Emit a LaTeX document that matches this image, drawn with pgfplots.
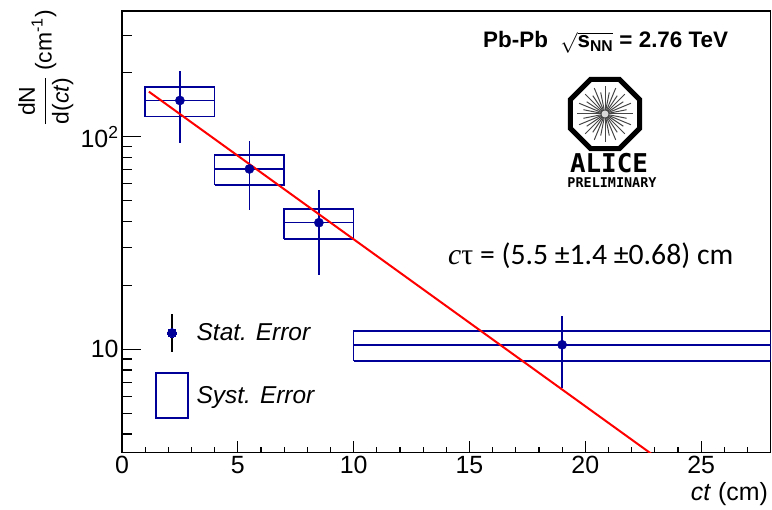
\documentclass[border=0pt]{standalone}
\usepackage{fontspec}
\setmainfont{Liberation Sans}
\newfontfamily\calib{Carlito}
\newfontfamily\tnr{Liberation Serif}
\newfontfamily\logofont{DejaVu Sans Mono}
\usepackage{amsmath}
\usepackage{pgfplots}
\pgfplotsset{compat=1.18}
\definecolor{datablue}{RGB}{0,0,153}
\definecolor{fitred}{RGB}{255,0,0}

\begin{document}
\begin{tikzpicture}
\useasboundingbox (0,0) rectangle (772bp,510bp);

% x axis ticks (shorter tick marks than on the y axis)
\begin{axis}[
  at={(122bp,57.3bp)}, anchor=south west,
  scale only axis, width=648.6bp, height=441.7bp,
  xmin=0, xmax=28, ymode=log, ymin=3.264, ymax=390,
  axis line style={line width=1.6bp},
  tick pos=left, tick align=inside,
  tick style={line width=1.2bp, black},
  ticklabel style={font=\fontsize{25}{30}\selectfont},
  /pgf/number format/assume math mode=true,
  xtick={0,5,...,25},
  minor xtick={1,2,3,4,6,7,8,9,11,12,13,14,16,17,18,19,21,22,23,24,26,27},
  ytick=\empty, minor ytick={},
  major tick length=12bp, minor tick length=6bp,
]
\end{axis}

\begin{axis}[
  at={(122bp,57.3bp)}, anchor=south west,
  scale only axis, width=648.6bp, height=441.7bp,
  xmin=0, xmax=28, ymode=log, ymin=3.264, ymax=390,
  axis line style={line width=1.6bp},
  tick pos=left, tick align=inside,
  tick style={line width=1.2bp, black},
  ticklabel style={font=\fontsize{25}{30}\selectfont},
  xtick=\empty, minor xtick={},
  ytick={10,100}, yticklabels={10,10\textsuperscript{2}},
  minor ytick={4,5,6,7,8,9,20,30,40,50,60,70,80,90,200,300},
  major tick length=19bp, minor tick length=10bp,
  legend style={draw=none, fill=none, at={(0.0509,0.3163)}, anchor=north west,
    inner sep=0pt, row sep=20bp, font=\fontsize{24.5}{29}\selectfont\itshape,
    nodes={inner sep=0pt},
    /tikz/every odd column/.append style={column sep=8bp}},
  legend cell align=left,
]
\addlegendimage{legend image code/.code={
  \draw[black, line width=1.3bp] (16bp,-19bp) -- (16bp,19bp);
  \draw[datablue, fill=datablue, line width=0bp] (16bp,0bp) circle[radius=4.6bp];
}}
\addlegendentry{Stat. Error}
\addlegendimage{legend image code/.code={
  \draw[datablue, line width=1.5bp] (0bp,-22.5bp) rectangle (32bp,22.5bp);
}}
\addlegendentry{Syst. Error}

% systematic uncertainty boxes
\addplot[datablue, line width=1.5bp, mark=none, forget plot]
  coordinates {(1,124.3) (4,124.3) (4,171.7) (1,171.7) (1,124.3)};
\addplot[datablue, line width=1.5bp, mark=none, forget plot]
  coordinates {(4,59.2) (7,59.2) (7,81.8) (4,81.8) (4,59.2)};
\addplot[datablue, line width=1.5bp, mark=none, forget plot]
  coordinates {(7,33.1) (10,33.1) (10,45.7) (7,45.7) (7,33.1)};
\addplot[datablue, line width=1.5bp, mark=none, forget plot]
  coordinates {(10,8.82) (28,8.82) (28,12.18) (10,12.18) (10,8.82)};

% yields with statistical uncertainties
\addplot[datablue, only marks, mark=*, mark size=4.6bp, forget plot,
  error bars/.cd, x dir=both, x explicit, y dir=both, y explicit,
  error mark=none, error bar style={line width=1.5bp, datablue}]
  coordinates {
    (2.5,148)  +- (1.5,55)
    (5.5,70.5) +- (1.5,25.3)
    (8.5,39.4) +- (1.5,17)
    (19,10.5)  +- (9,3.9)
  };

% exponential fit, c tau = 5.5 cm
\addplot[fitred, line width=2bp, mark=none, forget plot]
  coordinates {(1.16,162.8) (24,2.62)};
\end{axis}

% axis titles
\node[rotate=90, anchor=north east, inner sep=0, font=\fontsize{23}{28}\selectfont]
  at (18bp,500bp) {$\dfrac{\text{dN}}{\text{d(}\textit{ct}\text{)}}$\ (cm\textsuperscript{-1})};
\node[anchor=base east, inner sep=0, font=\fontsize{25}{30}\selectfont]
  at (768bp,10bp) {\textit{ct} (cm)};

% annotations
\node[anchor=base west, inner sep=0, font=\fontsize{22.5}{26}\selectfont\bfseries]
  at (483bp,462bp) {Pb-Pb\ \ $\sqrt{\text{s}_{\text{NN}}}$ = 2.76 TeV};
\node[anchor=base west, inner sep=0, font=\fontsize{29.8}{34}\selectfont\calib]
  at (448bp,245bp) {{\tnr\itshape c}{\tnr τ} = (5.5 ±1.4 ±0.68) cm};

% ALICE logo
\begin{scope}[shift={(605bp,396bp)}]
  \foreach \a in {0,22.5,...,337.5} \draw[gray!55!black, line width=1bp] (0,0) -- (\a:28bp);
  \foreach \a in {11.25,33.75,...,348.75} \draw[gray!55!black, line width=1bp] (0,0) -- (\a:22bp);
  \fill[gray!30] (0,0) circle[radius=3.5bp];
  \draw[line width=5bp, black, line join=miter]
    (22.5:37.5bp) -- (67.5:37.5bp) -- (112.5:37.5bp) -- (157.5:37.5bp) --
    (202.5:37.5bp) -- (247.5:37.5bp) -- (292.5:37.5bp) -- (337.5:37.5bp) -- cycle;
\end{scope}
\node[anchor=base, inner sep=0, font=\logofont\bfseries\fontsize{26}{28}\selectfont]
  at (609bp,337bp) {ALICE};
\node[anchor=base, inner sep=0, font=\logofont\bfseries\fontsize{13.5}{15}\selectfont]
  at (612bp,322bp) {PRELIMINARY};
\end{tikzpicture}
\end{document}
